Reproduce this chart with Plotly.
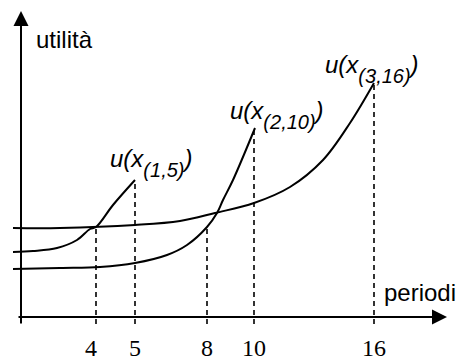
import plotly.graph_objects as go

# schematic drawing: x is horizontal position along the time axis (0 = y axis),
# y is utility level (0 = time axis)
periods = ['4', '5', '8', '10', '16']
period_x = [75, 114, 186, 233, 353]
period_top = [90, 137, 90, 189, 234]

u1_x = [-8, 12, 36, 56, 69, 75, 92, 114]
u1_y = [65, 66, 69, 77, 88, 90, 112, 137]

u2_x = [-8, 39, 79, 114, 146, 166, 186, 196, 202, 212, 234]
u2_y = [48, 49, 50, 54, 62, 72, 90, 104, 117, 137, 189]

u3_x = [-8, 39, 114, 159, 194, 233, 269, 302, 329, 353]
u3_y = [89, 89, 92, 96, 104, 114, 130, 157, 194, 234]

curve_labels = ['(1,5)', '(2,10)', '(3,16)']
label_x = [87, 207, 302]
label_y = [154, 202, 248]

fig = go.Figure()

for xs, ys in [(u1_x, u1_y), (u2_x, u2_y), (u3_x, u3_y)]:
  fig.add_trace(
    go.Scatter(x=xs, y=ys, mode='lines', line_shape='spline',
               line=dict(color='black', width=2), showlegend=False, hoverinfo='skip')
  )

# dashed drop lines from each curve end / crossing down to the time axis
for i, (lab, px, top) in enumerate(zip(periods, period_x, period_top)):
  fig.add_trace(
    go.Scatter(x=[px, px], y=[-7, top], mode='lines',
               line=dict(color='black', width=1.6, dash='5px,4px'),
               showlegend=False, hoverinfo='skip')
  )
  fig.add_annotation(x=px, y=-31, text=lab, showarrow=False, yanchor='middle',
                     xshift=-5 if i == 0 else 0,
                     font=dict(family='Liberation Serif', size=24, color='black'))

# axes with arrow heads
fig.add_annotation(x=0, y=306, ax=0, ay=-8, xref='x', yref='y', axref='x', ayref='y',
                   showarrow=True, arrowhead=2, arrowsize=1.5, arrowwidth=2,
                   arrowcolor='black', text='')
fig.add_annotation(x=426, y=0, ax=-4, ay=0, xref='x', yref='y', axref='x', ayref='y',
                   showarrow=True, arrowhead=2, arrowsize=1.5, arrowwidth=2,
                   arrowcolor='black', text='')

fig.add_annotation(x=13, y=278, text='utilità', showarrow=False,
                   xanchor='left', yanchor='middle',
                   font=dict(family='Liberation Sans', size=24, color='black'))
fig.add_annotation(x=361, y=25, text='periodi', showarrow=False,
                   xanchor='left', yanchor='middle',
                   font=dict(family='Liberation Sans', size=24, color='black'))

for lab, lx, ly in zip(curve_labels, label_x, label_y):
  fig.add_annotation(
    x=lx, y=ly, showarrow=False, xanchor='left', yanchor='middle',
    text='<i>u(x<sub><span style="font-size:20px;baseline-shift:-5px">' + lab + '</span></sub>)</i>',
    font=dict(family='Liberation Sans', size=24, color='black'))

# the page body keeps its default 8px margin, so the figure is 8px smaller
fig.update_layout(
  width=457,
  height=350,
  margin=dict(l=0, r=0, t=0, b=0),
  paper_bgcolor='white',
  plot_bgcolor='white',
  xaxis=dict(range=[-13, 444], visible=False, fixedrange=True),
  yaxis=dict(range=[-41, 309], visible=False, fixedrange=True),
)

fig.write_html('out.html')
